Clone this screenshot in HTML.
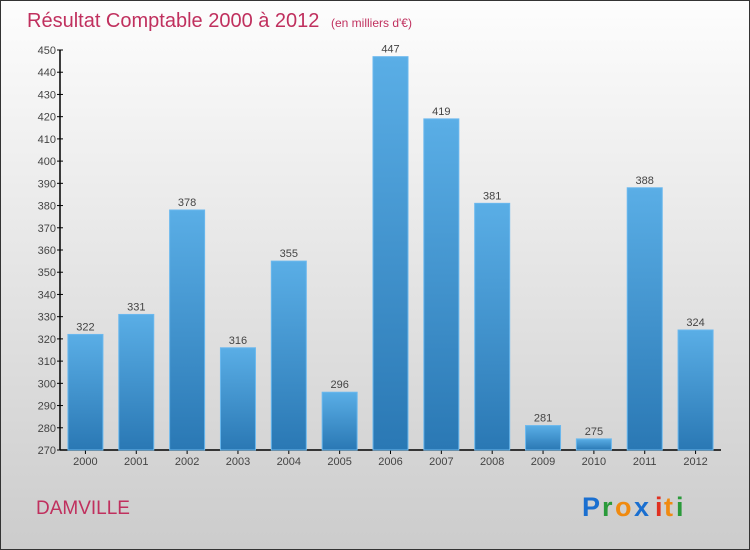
<!DOCTYPE html>
<html><head><meta charset="utf-8"><style>
html,body{margin:0;padding:0}
body{width:750px;height:550px;overflow:hidden;font-family:"Liberation Sans",sans-serif}
#wrap{position:absolute;left:0;top:0;width:748px;height:548px;border:1px solid #333;background:linear-gradient(#fdfdfd,#cccccc)}
</style></head><body>
<div id="wrap">
<svg id="chart" width="750" height="550" style="position:absolute;left:-1px;top:-1px">
<defs><linearGradient id="bg" x1="0" y1="0" x2="0" y2="1"><stop offset="0" stop-color="#5aaee6"/><stop offset="1" stop-color="#2a78b4"/></linearGradient></defs>
<text x="27" y="27" font-size="20" fill="#c0305e">Résultat Comptable 2000 à 2012 <tspan font-size="12" dx="6">(en milliers d'€)</tspan></text>
<text x="36" y="514" font-size="19" fill="#c0305e">DAMVILLE</text>
<g font-size="27" font-weight="bold">
<text x="582" y="516" fill="#1a6fd0">P</text><text x="602" y="516" fill="#2a9a3a">r</text><text x="615" y="516" fill="#f08a10">o</text><text x="634" y="516" fill="#1a6fd0">x</text><text x="655" y="516" fill="#e03020">i</text><text x="664" y="516" fill="#f08a10">t</text><text x="676" y="516" fill="#2a9a3a">i</text>
</g>
<g id="axes"></g><g id="bars"></g>
</svg></div>
<script>
const categories=["2000","2001","2002","2003","2004","2005","2006","2007","2008","2009","2010","2011","2012"];
const values=[322,331,378,316,355,296,447,419,381,281,275,388,324];
const yTicks=[270,280,290,300,310,320,330,340,350,360,370,380,390,400,410,420,430,440,450];
const NS="http://www.w3.org/2000/svg";
const x0=60,x1=721,yTop=50,yBot=450,yMin=270,yMax=450;
const bw=(x1-x0)/categories.length;
function y(v){return yBot-(v-yMin)/(yMax-yMin)*(yBot-yTop);}
function xc(i){return x0+bw*(i+0.5);}
function mk(t,a,p){const e=document.createElementNS(NS,t);for(const k in a)e.setAttribute(k,a[k]);p.appendChild(e);return e;}
const ax=document.getElementById('axes'),bars=document.getElementById('bars');
let l=mk('line',{x1:x0,y1:yTop,x2:x0,y2:yBot,stroke:'#000','stroke-width':1.5},ax);


l=mk('line',{x1:x0,y1:yBot,x2:x1,y2:yBot,stroke:'#000','stroke-width':1.5},ax);


yTicks.forEach(v=>{
 mk('line',{x1:x0-3,y1:y(v),x2:x0+3,y2:y(v),stroke:'#000'},ax);
 const t=mk('text',{x:x0-4,y:y(v)+4,'text-anchor':'end','font-size':11,fill:'#444'},ax);t.textContent=v;
 
 
});
categories.forEach((c,i)=>{
 mk('line',{x1:xc(i),y1:yBot,x2:xc(i),y2:yBot+4,stroke:'#000'},ax);
 const t=mk('text',{x:xc(i),y:yBot+15,'text-anchor':'middle','font-size':11,fill:'#444'},ax);t.textContent=c;
 
 
 const v=values[i];
 const r=mk('rect',{x:xc(i)-17.5,y:y(v),width:35,height:yBot-y(v),fill:'url(#bg)',stroke:'#6ab8ee','stroke-width':1},bars);
 
 
 const lt=mk('text',{x:xc(i),y:y(v)-4,'text-anchor':'middle','font-size':11,fill:'#444'},bars);lt.textContent=v;
 
 
});
</script>
</body></html>
